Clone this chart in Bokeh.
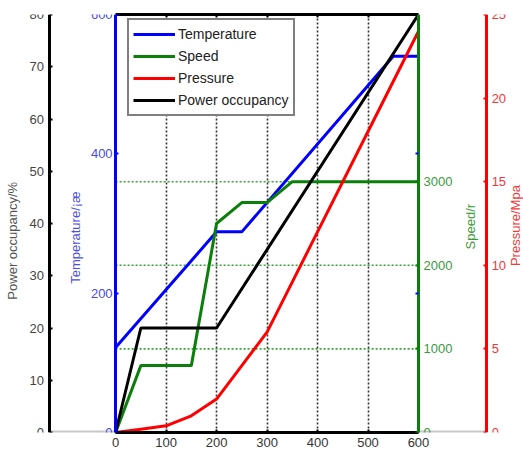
from math import pi
from bokeh.plotting import figure
from bokeh.models import (Range1d, LinearAxis, FixedTicker, Grid, Legend,
                          LegendItem, Label)
from bokeh.embed import file_html
from bokeh.resources import INLINE

# ---- data ----
x_ticks = [0, 100, 200, 300, 400, 500, 600]
power_ticks = [0, 10, 20, 30, 40, 50, 60, 70, 80]
temp_ticks = [0, 200, 400, 600]
speed_ticks = [0, 1000, 2000, 3000]
press_ticks = [0, 5, 10, 15, 20, 25]

temp_x = [0, 200, 250, 550, 600]
temp_y = [122, 288, 288, 540, 540]

speed_x = [0, 50, 150, 200, 250, 300, 350, 600]
speed_y = [0, 800, 800, 2500, 2750, 2750, 3000, 3000]

press_x = [0, 50, 100, 150, 200, 250, 300, 400, 500, 600]
press_y = [0, 0.2, 0.4, 1.0, 2.0, 4.0, 6.0, 12.0, 18.0, 24.0]

power_x = [0, 50, 200, 600]
power_y = [0, 20, 20, 80]

FONT = "Liberation Sans"
BLUE, GREEN, RED = "#0000ff", "#0a800a", "#ff0000"

# layout positions (in x data units) of the offset axes and titles
X_LO, X_HI = -228, 808
POWER_AX, PRESS_AX = -130, 735
XMIN, XMAX = x_ticks[0], x_ticks[-1]

p = figure(width=523, height=459, x_range=Range1d(X_LO, X_HI), y_range=Range1d(0, 80),
           x_axis_location=None, y_axis_location=None, toolbar_location=None,
           output_backend="svg", min_border_left=0, min_border_right=0,
           min_border_top=14, min_border_bottom=27)
p.center = []
p.outline_line_color = None
p.background_fill_color = "white"
p.border_fill_color = "white"
p.extra_y_ranges = {"temp": Range1d(0, 600), "speed": Range1d(0, 5000),
                    "press": Range1d(0, 25)}


def style(ax, color, lab_color, lw=3, standoff=4):
    ax.axis_line_color = color
    ax.axis_line_width = lw
    ax.major_tick_line_color = color
    ax.major_tick_line_width = 2
    ax.major_tick_in = 3
    ax.major_tick_out = 0
    ax.minor_tick_line_color = None
    ax.major_label_text_font = FONT
    ax.major_label_text_font_size = "13px"
    ax.major_label_text_color = lab_color
    ax.major_label_standoff = standoff


# grids (vertical dotted black, horizontal dotted green on the speed scale)
p.add_layout(Grid(dimension=0, ticker=FixedTicker(ticks=x_ticks[1:-1]),
                  grid_line_color="#333333", grid_line_dash="2 2", grid_line_width=1.6))
grid_speeds = speed_ticks[1:]
p.segment(x0=[XMIN] * len(grid_speeds), x1=[XMAX] * len(grid_speeds),
          y0=grid_speeds, y1=grid_speeds, y_range_name="speed",
          line_color="#3aa43a", line_dash="2 2", line_width=1.6)

# gray base lines of the offset axes
p.segment(x0=[POWER_AX, XMAX], x1=[XMIN, PRESS_AX], y0=[0, 0], y1=[0, 0],
          line_color="#c8c8c8", line_width=4)

# bottom x axis
xa = LinearAxis(ticker=FixedTicker(ticks=x_ticks), bounds=(XMIN, XMAX))
style(xa, "black", "#333333", standoff=5)
p.add_layout(xa, "below")

# top border
ta = LinearAxis(ticker=FixedTicker(ticks=x_ticks[1:-1]), bounds=(XMIN, XMAX))
style(ta, "black", None, standoff=0)
ta.major_label_text_font_size = "1px"
p.add_layout(ta, "above")

# left axes
ya_p = LinearAxis(ticker=FixedTicker(ticks=power_ticks), fixed_location=POWER_AX)
style(ya_p, "black", "#444444", standoff=6)
p.add_layout(ya_p, "left")
ya_t = LinearAxis(y_range_name="temp", ticker=FixedTicker(ticks=temp_ticks), fixed_location=XMIN)
style(ya_t, BLUE, "#4a4ae6", standoff=3)
p.add_layout(ya_t, "left")

# right axes
ya_s = LinearAxis(y_range_name="speed", ticker=FixedTicker(ticks=speed_ticks), fixed_location=XMAX)
style(ya_s, GREEN, "#3a9a3a", standoff=5)
p.add_layout(ya_s, "right")
ya_r = LinearAxis(y_range_name="press", ticker=FixedTicker(ticks=press_ticks), fixed_location=PRESS_AX)
style(ya_r, RED, "#f03a3a", standoff=5)
p.add_layout(ya_r, "right")
# temperature box ticks on the right edge
ya_t2 = LinearAxis(y_range_name="temp", ticker=FixedTicker(ticks=temp_ticks[1:-1]), fixed_location=XMAX)
style(ya_t2, None, None, standoff=0)
ya_t2.major_tick_line_color = BLUE
ya_t2.major_label_text_font_size = "1px"
p.add_layout(ya_t2, "right")

# lines
r_t = p.line(temp_x, temp_y, y_range_name="temp", line_color=BLUE, line_width=3)
r_s = p.line(speed_x, speed_y, y_range_name="speed", line_color=GREEN, line_width=3)
r_r = p.line(press_x, press_y, y_range_name="press", line_color=RED, line_width=3)
r_p = p.line(power_x, power_y, line_color="black", line_width=3)

legend = Legend(items=[LegendItem(label="Temperature", renderers=[r_t]),
                       LegendItem(label="Speed", renderers=[r_s]),
                       LegendItem(label="Pressure", renderers=[r_r]),
                       LegendItem(label="Power occupancy", renderers=[r_p])],
                location=(127, 316))
legend.border_line_color = "black"
legend.border_line_width = 2
legend.background_fill_alpha = 1
legend.label_text_font = FONT
legend.label_text_font_size = "14px"
legend.label_text_color = "#222222"
legend.glyph_width = 42
legend.glyph_height = 20
legend.label_height = 20
legend.spacing = 2
legend.padding = 4
legend.label_standoff = 3
legend.margin = 0
p.add_layout(legend)

# axis titles (rotated, reading bottom-to-top as in the original)
titles = [("Power occupancy/%", -204, 36.7, "#555555"),
          ("Temperature/¡æ", -79, 37.3, "#5050e0"),
          ("Speed/r", 703, 39.4, "#3a9a3a"),
          ("Pressure/Mpa", 793, 39.6, "#f03a3a")]
for txt, xd, yd, col in titles:
    p.add_layout(Label(x=xd, y=yd, text=txt, angle=pi / 2,
                       text_align="center", text_baseline="middle",
                       text_font=FONT, text_font_size="13px", text_color=col))

open("out.html", "w").write(file_html(p, INLINE))
